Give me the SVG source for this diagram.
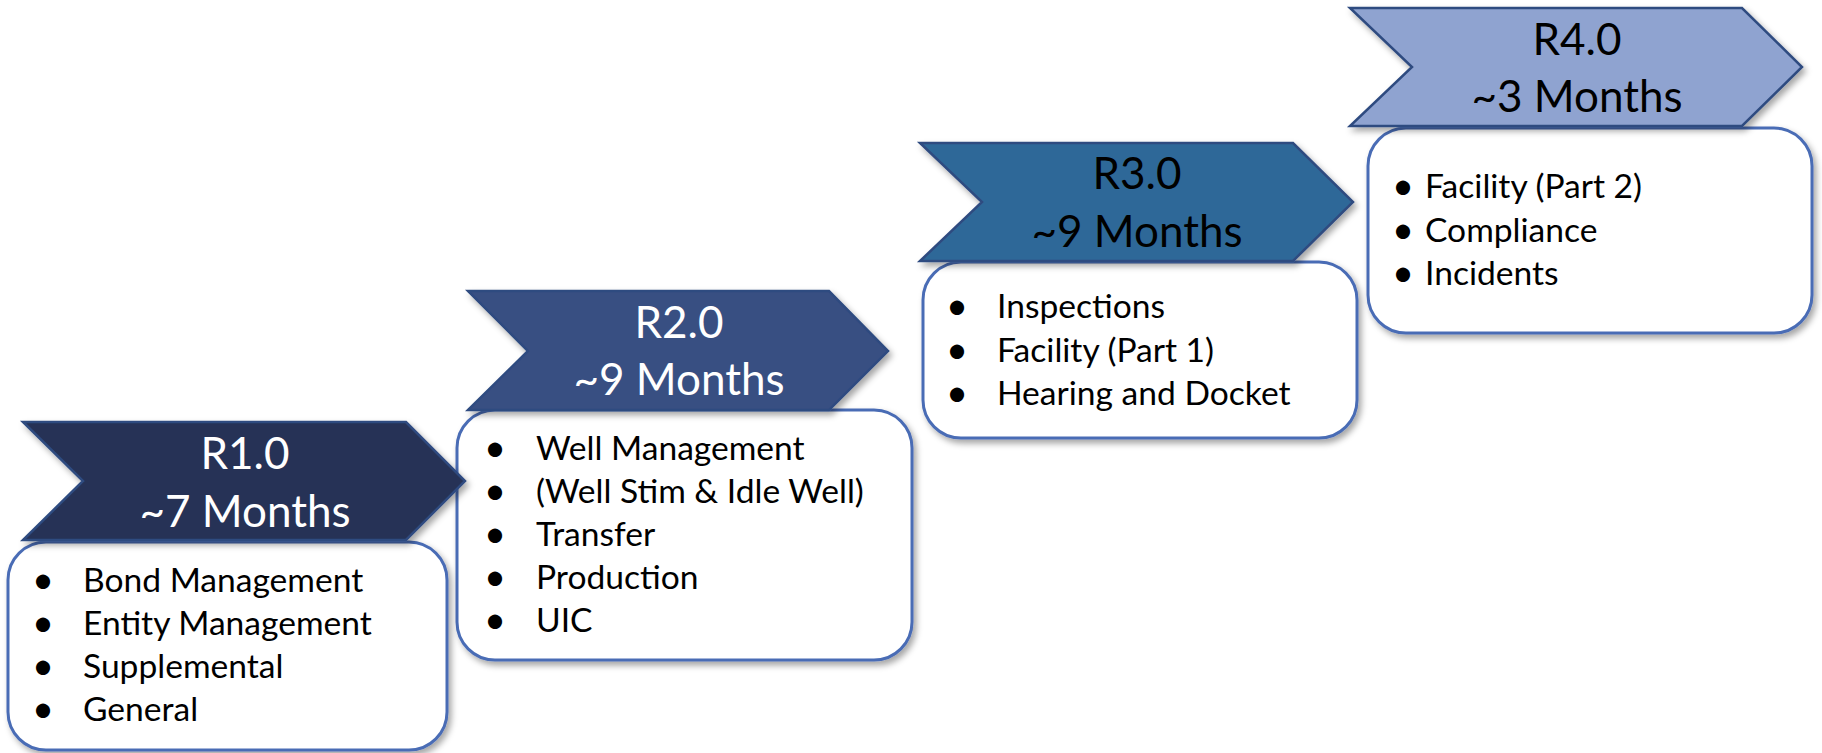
<svg xmlns="http://www.w3.org/2000/svg" width="1822" height="753" viewBox="0 0 1822 753">
<defs>
<filter id="sh" x="-10%" y="-10%" width="130%" height="130%">
<feDropShadow dx="3" dy="4" stdDeviation="3" flood-color="#000" flood-opacity="0.35"/>
</filter>
</defs>
<style>
.box{fill:#fff;stroke:#4a6cb5;stroke-width:3;filter:url(#sh)}
.chev{stroke:#2f4b80;stroke-width:2.5;filter:url(#sh)}
.hd{font-family:Lato,"Liberation Sans",sans-serif;font-size:44px;text-anchor:middle}
.it{font-family:Lato,"Liberation Sans",sans-serif;font-size:33.6px;fill:#000}
.b{font-size:38px;text-anchor:middle}
.w{fill:#fff}
.k{fill:#000}
</style>
<rect width="1822" height="753" fill="#fff"/>
<g id="box4"><rect class="box" x="1368" y="128" width="444" height="205" rx="38"/>
<g class="it"><text class="b" x="1403" y="199">•</text><text x="1425" y="198">Facility (Part 2)</text>
<text class="b" x="1403" y="243">•</text><text x="1425" y="242">Compliance</text>
<text class="b" x="1403" y="286">•</text><text x="1425" y="285">Incidents</text></g></g>
<g id="box3"><rect class="box" x="923" y="262" width="434" height="176" rx="38"/>
<g class="it"><text class="b" x="957" y="319">•</text><text x="997" y="318">Inspections</text>
<text class="b" x="957" y="363">•</text><text x="997" y="362">Facility (Part 1)</text>
<text class="b" x="957" y="406">•</text><text x="997" y="405">Hearing and Docket</text></g></g>
<g id="box2"><rect class="box" x="457" y="410" width="455" height="250" rx="38"/>
<g class="it"><text class="b" x="495" y="461">•</text><text x="536" y="460">Well Management</text>
<text class="b" x="495" y="504">•</text><text x="536" y="503">(Well Stim &amp; Idle Well)</text>
<text class="b" x="495" y="547">•</text><text x="536" y="546">Transfer</text>
<text class="b" x="495" y="590">•</text><text x="536" y="589">Production</text>
<text class="b" x="495" y="633">•</text><text x="536" y="632">UIC</text></g></g>
<g id="box1"><rect class="box" x="8" y="542" width="439" height="208" rx="38"/>
<g class="it"><text class="b" x="43" y="593">•</text><text x="83" y="592">Bond Management</text>
<text class="b" x="43" y="636">•</text><text x="83" y="635">Entity Management</text>
<text class="b" x="43" y="679">•</text><text x="83" y="678">Supplemental</text>
<text class="b" x="43" y="722">•</text><text x="83" y="721">General</text></g></g>
<g id="r4"><polygon class="chev" fill="#8fa3d0" points="1350,8 1742,8 1802,67 1742,126 1350,126 1412,67"/>
<text class="hd k" x="1577" y="55">R4.0</text><text class="hd k" x="1577" y="112">~3 Months</text></g>
<g id="r3"><polygon class="chev" fill="#2f6898" points="920,143 1293,143 1353,202 1293,261 920,261 982,202"/>
<text class="hd k" x="1137" y="189">R3.0</text><text class="hd k" x="1137" y="247">~9 Months</text></g>
<g id="r2"><polygon class="chev" fill="#394f82" points="468,291 829,291 888,351 829,410 468,410 528,351"/>
<text class="hd w" x="679" y="338">R2.0</text><text class="hd w" x="679" y="395">~9 Months</text></g>
<g id="r1"><polygon class="chev" fill="#263356" points="23,422 406,422 465,481 406,540 23,540 83,481"/>
<text class="hd w" x="245" y="469">R1.0</text><text class="hd w" x="245" y="527">~7 Months</text></g>
<g id="connectors"/>
</svg>
